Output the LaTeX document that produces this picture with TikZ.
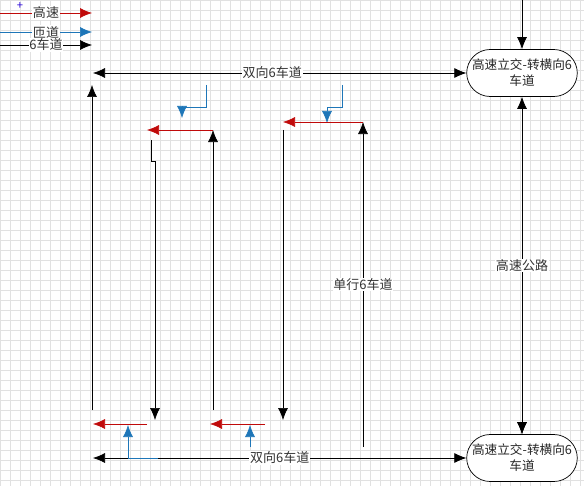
\documentclass[tikz,border=0pt]{standalone}
\usepackage{fontspec}
\setmainfont{Noto Sans CJK SC}
\usetikzlibrary{arrows.meta, positioning, shapes.misc}

\definecolor{roadred}{RGB}{192,10,10}
\definecolor{rampblue}{RGB}{30,118,184}
\definecolor{gridgray}{RGB}{225,225,225}

\tikzset{
  lane/.style={line width=1pt,black,-{Latex[length=6mm,width=5mm]}},
  lanes/.style={line width=1pt,black,{Latex[length=6mm,width=5mm]}-{Latex[length=6mm,width=5mm]}},
  hwy/.style={line width=1pt,roadred,-{Latex[length=6mm,width=5mm]}},
  ramp/.style={line width=1pt,rampblue,-{Latex[length=6mm,width=5mm]}},
  lbl/.style={fill=white,inner sep=1pt,font=\fontsize{18.5}{22}\selectfont,text=black!80},
  junction/.style={draw,line width=1pt,rounded rectangle,minimum width=55mm,minimum height=23.5mm,
    align=center,font=\fontsize{18}{23}\selectfont,text=black!85,fill=white,inner sep=1pt}
}

\begin{document}
\begin{tikzpicture}[x=0.5mm,y=-0.5mm]
\useasboundingbox (0,0) rectangle (584,486);
\foreach \gx in {0,10,...,580}
  \draw[gridgray,thin] (\gx,0) -- (\gx,486);
\foreach \gy in {0,10,...,480}
  \draw[gridgray,thin] (0,\gy) -- (584,\gy);

% legend
\draw[hwy] (0,13) -- node[lbl] {高速} (92,13);
\draw[ramp] (0,32) -- node[lbl] {匝道} (92,32);
\draw[lane] (0,45) -- node[lbl] {6车道} (92,45);
\node[text=blue!70!violet,font=\fontsize{16}{16}\selectfont,inner sep=0pt] (plus) at (20,6) {+};

% junctions
\node[junction] (top) at (522,73) {高速立交-转横向6\\车道};
\node[junction] (bot) at (522,458) {高速立交-转横向6\\车道};
\coordinate (topin) at (522,0);
\coordinate (botin) at (522,400);
\draw[lane] (topin) -- (top.north);
\draw[lane] (botin) -- (bot.north);
\draw[lanes] (top.south) -- node[lbl] {高速公路} (bot.north);

% two-way roads
\coordinate (tl) at (93,73);
\coordinate (bl) at (93,458);
\draw[lanes] (tl) -- node[lbl,pos=0.48] {双向6车道} (top.west);
\draw[lanes] (bl) -- node[lbl,pos=0.5] {双向6车道} (bot.west);

% vertical lanes
\coordinate (a1) at (92,410);
\coordinate (a2) at (92,85);
\draw[lane] (a1) -- (a2);
\coordinate (b1) at (213,410);
\coordinate (b2) at (213,130);
\draw[lane] (b1) -- (b2);
\coordinate (c1) at (363,447);
\coordinate (c2) at (363,122);
\draw[lane] (c1) -- node[lbl] {单行6车道} (c2);
\coordinate (d1) at (283,130);
\coordinate (d2) at (283,420);
\draw[lane] (d1) -- (d2);
\coordinate (e1) at (151,140);
\coordinate (e2) at (155,420);
\draw[lane] (e1) |- (155,161) -- (e2);

% upper ramps
\coordinate (r1) at (206,85);
\coordinate (r2) at (182,118);
\draw[ramp] (r1) -- (206,107) -| (r2);
\coordinate (s1) at (342,85);
\coordinate (s2) at (327,123);
\draw[ramp] (s1) -- (342,107) -| (s2);

% exits
\coordinate (h1) at (213,130);
\coordinate (h2) at (147,130);
\draw[hwy] (h1) -- (h2);
\coordinate (i1) at (363,122);
\coordinate (i2) at (283,122);
\draw[hwy] (i1) -- (i2);
\coordinate (j1) at (147,424);
\coordinate (j2) at (93,424);
\draw[hwy] (j1) -- (j2);
\coordinate (k1) at (265,424);
\coordinate (k2) at (210,424);
\draw[hwy] (k1) -- (k2);

% lower ramps
\coordinate (m1) at (158,458);
\coordinate (m2) at (128,425);
\draw[ramp] (m1) -| (m2);
\coordinate (n1) at (250,447);
\coordinate (n2) at (250,425);
\draw[ramp] (n1) -- (n2);
\end{tikzpicture}
\end{document}
